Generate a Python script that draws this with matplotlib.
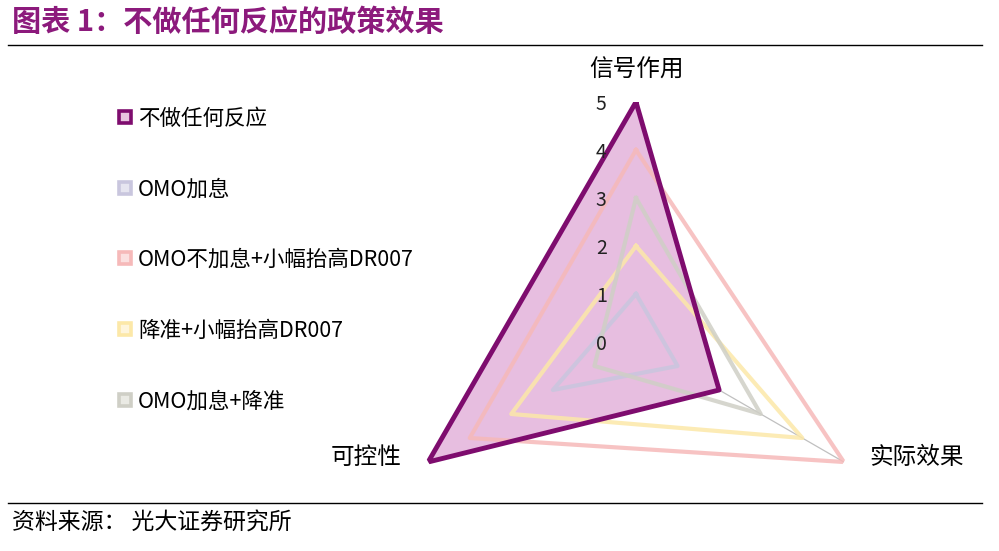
import numpy as np
import matplotlib
matplotlib.use('Agg')
import matplotlib.pyplot as plt
from matplotlib.lines import Line2D

plt.rcParams['font.family'] = ['Noto Sans CJK SC', 'DejaVu Sans']

# 数据
axes_labels = ['信号作用', '实际效果', '可控性']
series_names = ['不做任何反应', 'OMO加息', 'OMO不加息+小幅抬高DR007', '降准+小幅抬高DR007', 'OMO加息+降准']
no_reaction = [5, 2, 5]
omo_hike = [1, 1, 2]
omo_dr007 = [4, 5, 4]
rrr_dr007 = [2, 4, 3]
omo_rrr = [3, 3, 1]
radial_ticks = [0, 1, 2, 3, 4, 5]

colors = ['#7e0c6e', '#c9c6de', '#f6b9b9', '#fce8a8', '#cfcfc6']
inner = ['#e8c4e0', '#e6e5f0', '#fbe0e0', '#fef5dc', '#eaeae4']

fig = plt.figure(figsize=(9.99, 5.51), dpi=100)
cx, cy, R = 636, 342, 240
ax = fig.add_axes([(cx - R) / 999, (551 - cy - R) / 551, 2 * R / 999, 2 * R / 551], projection='polar')
ax.set_theta_offset(np.pi / 2)
ax.set_theta_direction(-1)
ax.set_ylim(0, 5)
ax.grid(False)
ax.spines['polar'].set_visible(False)
ax.set_xticks([])
ax.set_yticks([])
ax.patch.set_alpha(0)

theta = np.array([0, 2 * np.pi / 3, 4 * np.pi / 3])
th_closed = np.append(theta, theta[0])

# 轴线
for t in theta:
    ax.plot([t, t], [0, 5], color='#c0c0c0', lw=0.9, zorder=1)

def closed(v):
    return np.append(v, v[0])

# 不做任何反应 填充
ax.fill(th_closed, closed(no_reaction), color='#e7bee0', alpha=1.0, zorder=2, lw=0)

data = [omo_hike, omo_dr007, rrr_dr007, omo_rrr]
for vals, c in zip(data, colors[1:]):
    ax.plot(th_closed, closed(vals), color=c, lw=3, alpha=0.85, zorder=3)

ax.plot(th_closed, closed(no_reaction), color=colors[0], lw=3.5, zorder=4)

# 刻度标签
for v in radial_ticks:
    ax.annotate(str(v), xy=(0, v), xytext=(-25, -2), textcoords='offset points',
                ha='center', va='center', fontsize=14, color='#222222', zorder=5)

# 轴标签
ax.annotate(axes_labels[0], xy=(theta[0], 5), xytext=(0, 23), textcoords='offset points',
            ha='center', va='center', fontsize=17)
ax.annotate(axes_labels[1], xy=(theta[1], 5), xytext=(52, 3), textcoords='offset points',
            ha='center', va='center', fontsize=17)
ax.annotate(axes_labels[2], xy=(theta[2], 5), xytext=(-45, 3), textcoords='offset points',
            ha='center', va='center', fontsize=17)

# 图例
handles = [Line2D([], [], linestyle='none', marker='s', markersize=9, markeredgewidth=2.6,
                  markeredgecolor=c, markerfacecolor=fc) for c, fc in zip(colors, inner)]
fig.legend(handles, series_names, loc='upper left', bbox_to_anchor=(110 / 999, 1 - 99 / 551),
           frameon=False, fontsize=15.5, handlelength=0.6, handletextpad=0.3, labelspacing=2.26,
           borderaxespad=0)

# 标题与来源
fig.text(12 / 999, 1 - 22 / 551, '图表 1：不做任何反应的政策效果', fontsize=21, fontweight='bold',
         color='#8c1a7c', ha='left', va='center')
fig.add_artist(Line2D([8 / 999, 982 / 999], [1 - 45 / 551, 1 - 45 / 551], color='black', lw=1))
fig.add_artist(Line2D([8 / 999, 982 / 999], [1 - 503 / 551, 1 - 503 / 551], color='black', lw=1))
fig.text(12 / 999, 1 - 523 / 551, '资料来源： 光大证券研究所', fontsize=16.5, ha='left', va='center')

fig.savefig('out.png', dpi=100)
